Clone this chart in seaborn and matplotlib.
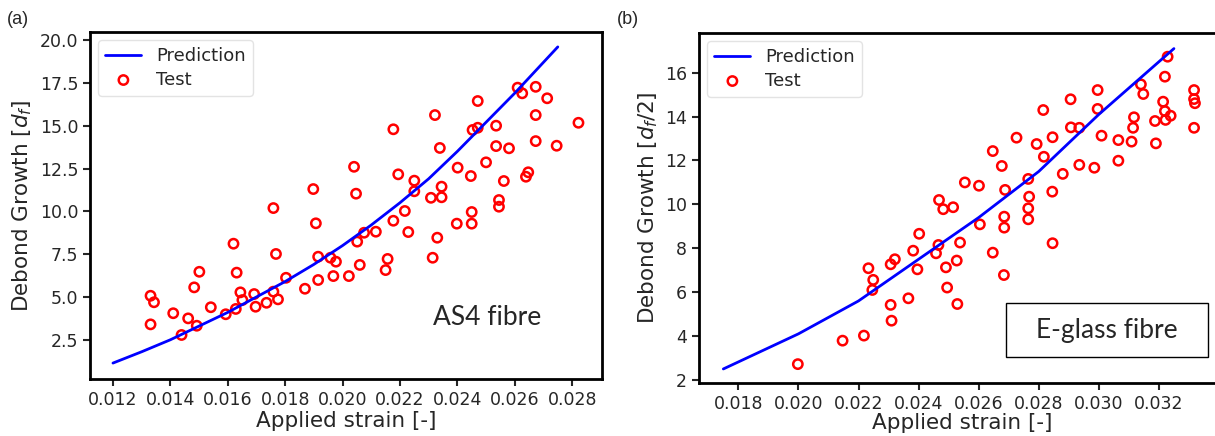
import numpy as np
import pandas as pd
import matplotlib
matplotlib.use("Agg")
import matplotlib.pyplot as plt
import seaborn as sns

# --- (a) AS4 fibre ---
as4_pred_strain = [0.012, 0.013, 0.014, 0.015, 0.016, 0.017, 0.018, 0.019, 0.020,
                   0.021, 0.022, 0.023, 0.024, 0.025, 0.026, 0.027, 0.0275]
as4_pred_growth = [1.14, 1.8, 2.5, 3.3, 4.1, 5.0, 5.9, 6.9, 8.0,
                   9.2, 10.5, 11.9, 13.5, 15.2, 16.9, 18.7, 19.6]
as4_test_strain = [0.01331, 0.01343, 0.01331, 0.0141, 0.01439, 0.01462, 0.01483, 0.01492,
                   0.01501, 0.01541, 0.01593, 0.0162, 0.01628, 0.01631, 0.01644, 0.01651,
                   0.01692, 0.01697, 0.01735, 0.01759, 0.01759, 0.01768, 0.01775, 0.01803,
                   0.01869, 0.01898, 0.01907, 0.01915, 0.01915, 0.01958, 0.01977, 0.01968,
                   0.02022, 0.02051, 0.0206, 0.02075, 0.02116, 0.0215, 0.02157, 0.02177,
                   0.02217, 0.02229, 0.02314, 0.0233, 0.02398, 0.0245, 0.0245, 0.02545,
                   0.02545, 0.0204, 0.02047, 0.02177, 0.02194, 0.0225, 0.0225, 0.02308,
                   0.02322, 0.02339, 0.02345, 0.02345, 0.02401, 0.02447, 0.02453, 0.02471,
                   0.02471, 0.025, 0.02535, 0.02535, 0.02562, 0.0258, 0.0261, 0.02626,
                   0.02639, 0.02647, 0.02673, 0.02673, 0.02673, 0.02713, 0.02746, 0.02822]
as4_test_growth = [5.07, 4.69, 3.40, 4.05, 2.78, 3.75, 5.56, 3.32,
                   6.47, 4.40, 3.99, 8.11, 4.30, 6.42, 5.27, 4.82,
                   5.17, 4.43, 4.66, 10.19, 5.31, 7.51, 4.86, 6.12,
                   5.48, 11.30, 9.30, 7.35, 5.99, 7.29, 7.06, 6.22,
                   6.22, 8.23, 6.87, 8.75, 8.81, 6.57, 7.22, 9.45,
                   10.02, 8.79, 7.29, 8.46, 9.28, 9.28, 9.96, 10.27,
                   10.66, 12.60, 11.03, 14.79, 12.16, 11.79, 11.17, 10.79,
                   15.62, 13.70, 11.44, 10.82, 12.55, 12.06, 14.75, 14.88,
                   16.44, 12.86, 15.0, 13.81, 11.77, 13.68, 17.22, 16.89,
                   12.02, 12.28, 17.27, 15.62, 14.10, 16.6, 13.83, 15.17]

# --- (b) E-glass fibre ---
eg_pred_strain = [0.0175, 0.020, 0.022, 0.024, 0.026, 0.028, 0.030, 0.0325]
eg_pred_growth = [2.5, 4.1, 5.6, 7.5, 9.4, 11.5, 14.1, 17.1]
eg_test_strain = [0.01998, 0.02147, 0.02218, 0.02233, 0.02249, 0.02246, 0.02307, 0.02321,
                  0.02307, 0.0231, 0.02366, 0.02382, 0.02396, 0.02402, 0.02466, 0.02458,
                  0.02538, 0.02491, 0.02527, 0.02495, 0.02529, 0.02604, 0.02647, 0.02685,
                  0.02685, 0.02684, 0.02765, 0.02765, 0.02846, 0.02468, 0.02482, 0.02515,
                  0.02554, 0.02601, 0.02647, 0.02677, 0.02688, 0.02726, 0.02765, 0.02768,
                  0.02793, 0.02815, 0.02817, 0.02846, 0.02845, 0.0288, 0.02906, 0.02907,
                  0.02935, 0.02935, 0.02985, 0.02996, 0.02996, 0.03009, 0.03065, 0.03065,
                  0.03109, 0.03114, 0.03117, 0.0314, 0.03148, 0.03187, 0.0319, 0.03214,
                  0.0322, 0.03222, 0.03239, 0.0322, 0.03229, 0.03317, 0.03317, 0.0332, 0.03317]
eg_test_growth = [2.72, 3.79, 4.02, 7.09, 6.56, 6.10, 7.27, 7.50,
                  5.42, 4.70, 5.72, 7.89, 7.04, 8.66, 8.15, 7.77,
                  8.26, 7.13, 7.44, 6.21, 5.46, 9.09, 7.80, 9.44,
                  8.94, 6.78, 9.82, 9.32, 8.23, 10.2, 9.78, 9.87,
                  11.0, 10.85, 12.43, 11.75, 10.66, 13.04, 11.16, 10.35,
                  12.75, 14.30, 12.17, 13.06, 10.58, 11.39, 14.79, 13.51,
                  13.49, 11.8, 11.67, 15.21, 14.35, 13.13, 12.93, 11.99,
                  12.86, 13.49, 13.97, 15.47, 15.03, 13.80, 12.78, 14.68,
                  14.25, 13.85, 14.04, 15.82, 16.73, 15.21, 14.80, 14.61, 13.49]

as4_yticks = [2.5, 5.0, 7.5, 10.0, 12.5, 15.0, 17.5, 20.0]
as4_xticks = [0.012, 0.014, 0.016, 0.018, 0.020, 0.022, 0.024, 0.026, 0.028]
eg_yticks = [2, 4, 6, 8, 10, 12, 14, 16]
eg_xticks = [0.018, 0.020, 0.022, 0.024, 0.026, 0.028, 0.030, 0.032]

sns.set_style("ticks")
plt.rcParams['font.family'] = ['DejaVu Sans']

fig = plt.figure(figsize=(12.15, 4.36), dpi=100)
ax1 = fig.add_axes([90 / 1215, 57 / 436, 512 / 1215, 347 / 436])
ax2 = fig.add_axes([699 / 1215, 53 / 436, 526 / 1215, 350 / 436])


def draw_panel(ax, ps, pg, ts, tg, ylabel, xpad):
    pred = pd.DataFrame({"strain": ps, "growth": pg})
    test = pd.DataFrame({"strain": ts, "growth": tg})
    sns.lineplot(data=pred, x="strain", y="growth", ax=ax, color="blue",
                 linewidth=2.0, label="Prediction")
    sns.scatterplot(data=test, x="strain", y="growth", ax=ax, marker="o",
                    s=45, facecolor="none", edgecolor="red", linewidth=1.8,
                    label="Test")
    ax.set_xlabel("Applied strain [-]", fontsize=15.5, labelpad=xpad)
    ax.set_ylabel(ylabel, fontsize=15.5)
    ax.tick_params(labelsize=12.5, length=5, width=1.5)
    for sp in ax.spines.values():
        sp.set_linewidth(2.0)
        sp.set_color("black")
    leg = ax.legend(loc="upper left", fontsize=13, frameon=True,
                    labelspacing=0.3, borderaxespad=0.45)
    leg.get_frame().set_edgecolor("#dddddd")


draw_panel(ax1, as4_pred_strain, as4_pred_growth, as4_test_strain, as4_test_growth,
           "Debond Growth [$d_f$]", 1.5)
ax1.set_xlim(0.0112, 0.02904)
ax1.set_ylim(0.21, 20.47)
ax1.set_xticks(as4_xticks)
ax1.set_xticklabels([f"{t:.3f}" for t in as4_xticks])
ax1.set_yticks(as4_yticks)
ax1.set_yticklabels([f"{t:.1f}" for t in as4_yticks])
ax1.text(0.775, 0.176, "AS4 fibre", transform=ax1.transAxes, ha="center", va="center",
         fontsize=19, family=["Lato", "DejaVu Sans"])

draw_panel(ax2, eg_pred_strain, eg_pred_growth, eg_test_strain, eg_test_growth,
           "Debond Growth [$d_f$/2]", 0)
ax2.set_xlim(0.01669, 0.0342)
ax2.set_ylim(1.86, 17.81)
ax2.set_xticks(eg_xticks)
ax2.set_xticklabels([f"{t:.3f}" for t in eg_xticks])
ax2.set_yticks(eg_yticks)
ax2.text(0.776, 0.151, "E-glass fibre", transform=ax2.transAxes, ha="center", va="center",
         fontsize=19, family=["Lato", "DejaVu Sans"])
ax2.add_patch(plt.Rectangle((0.584, 0.074), 0.384, 0.155, transform=ax2.transAxes,
                            fill=False, edgecolor="black", linewidth=1.0))

fig.text(0.006, 0.975, "(a)", fontsize=13, va="top", family=["Liberation Sans"])
fig.text(0.508, 0.975, "(b)", fontsize=13, va="top", family=["Liberation Sans"])

fig.savefig("out.png", dpi=100)
